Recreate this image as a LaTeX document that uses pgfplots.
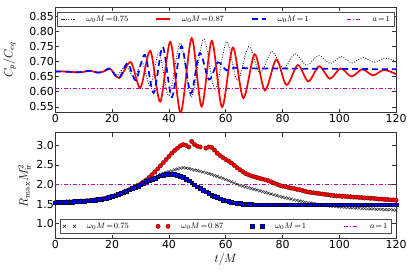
\documentclass[border=0pt]{standalone}
\usepackage[no-math]{fontspec}
\setmainfont{DejaVu Sans}
\usepackage{pgfplots}
\pgfplotsset{compat=1.18}
\definecolor{mmag}{rgb}{0.75,0,0.75}
\pgfplotsset{
  common/.style={
    scale only axis, width=341pt, height=106pt,
    xmin=0, xmax=120, xtick={0,20,...,120},
    tick label style={font=\fontsize{11}{12}\selectfont, inner sep=1.5pt},
    /pgf/number format/assume math mode=true,
    axis line style={line width=0.8pt, black!80},
    major tick length=4pt,
    every tick/.style={black!80, line width=0.6pt},
    label style={font=\fontsize{12}{14}\selectfont},
    legend columns=4,
    legend cell align=left,
    legend style={draw=black!70, line width=0.8pt, fill=white,
      inner xsep=3pt, inner ysep=2pt,
      font=\fontsize{8}{9}\selectfont,
      nodes={inner xsep=1pt, inner ysep=1.5pt},
      /tikz/every odd column/.style={column sep=10pt},
      /tikz/every even column/.style={column sep=4pt}},
  },
  linelegend/.style={legend image code/.code={\draw[mark repeat=2,mark phase=2] plot coordinates {(0pt,0pt)(7pt,0pt)(14pt,0pt)};}},
  marklegend/.style={legend image code/.code={\draw plot coordinates {(2pt,0pt)(12pt,0pt)};}},
}
\begin{document}
\begin{tikzpicture}[x=1pt,y=1pt]
\path (0,0) rectangle (415,277);
% ---------- top panel ----------
\begin{axis}[common, at={(55pt,164pt)}, anchor=south west,
  ymin=0.53, ymax=0.88, ytick={0.55,0.60,...,0.86},
  yticklabel style={/pgf/number format/.cd, fixed, fixed zerofill, precision=2},
  ylabel={$C_p/C_{eq}$},
  ylabel style={at={(axis description cs:-0.135,0.5)}, anchor=center},
  legend style={at={(0.5,0.953)}, anchor=north}]
\addplot[draw=black!85, line width=0.9pt, dash pattern=on 0.9pt off 1.6pt, smooth, linelegend] coordinates {
(0,0.667)(4,0.666)(8,0.664)(12,0.668)(15,0.664)(17,0.667)(19.2,0.673)(21.8,0.655)(24.8,0.684)(27.8,0.647)(30.6,0.697)(33.4,0.62)(36.5,0.728)(40,0.586)(44,0.761)(47.9,0.582)(52.2,0.774)(56.2,0.607)(60.3,0.765)(64.1,0.637)(68.1,0.749)(72.1,0.662)(76.2,0.733)(80.3,0.677)(84.4,0.725)(88.6,0.687)(92.7,0.72)(96.8,0.693)(100.6,0.716)(104.5,0.695)(108.3,0.713)(112.2,0.697)(116,0.711)(120,0.700)};
\addlegendentry{\makebox[64pt][l]{$\omega_0 M\!=\!0.75$}}
\addplot[draw=red, line width=1.7pt, smooth, linelegend] coordinates {
(0,0.667)(3,0.667)(6,0.665)(9,0.664)(12,0.669)(15,0.663)(17,0.667)(19.3,0.676)(22.5,0.645)(26.5,0.698)(29.9,0.613)(33.4,0.735)(36.9,0.567)(40.5,0.765)(44.1,0.530)(48,0.777)(51.5,0.551)(55.1,0.768)(58.7,0.549)(62.5,0.746)(66.2,0.579)(70.2,0.724)(73.8,0.604)(77.8,0.706)(81.4,0.622)(85.4,0.688)(89.1,0.634)(92.9,0.684)(96.7,0.643)(100.5,0.677)(104.3,0.650)(108.1,0.674)(111.9,0.654)(115.7,0.672)(120,0.658)};
\addlegendentry{\makebox[64pt][l]{$\omega_0 M\!=\!0.87$}}
\addplot[draw=blue, line width=1.7pt, dash pattern=on 6pt off 4pt, smooth, linelegend] coordinates {
(0,0.667)(4,0.666)(8,0.664)(12,0.669)(15,0.663)(17,0.667)(19.2,0.676)(22.3,0.645)(25.4,0.694)(28.3,0.638)(31.5,0.722)(34.6,0.596)(37.8,0.748)(41,0.582)(44.4,0.75)(47.7,0.594)(50.8,0.728)(54.1,0.64)(57.2,0.697)(60.2,0.671)(63,0.679)(70,0.677)(90,0.676)(120,0.674)};
\addlegendentry{\makebox[64pt][l]{$\omega_0 M\!=\!1$}}
\addplot[draw=mmag, line width=1.3pt, dash pattern=on 4pt off 2pt on 1pt off 2pt, linelegend] coordinates {(0,0.61)(120,0.61)};
\addlegendentry{$a\!=\!1$}
\end{axis}
% ---------- bottom panel ----------
\begin{axis}[common, at={(55pt,38pt)}, anchor=south west,
  ymin=0.62, ymax=3.32, ytick={1.0,1.5,...,3.01},
  yticklabel style={/pgf/number format/.cd, fixed, fixed zerofill, precision=1},
  ylabel={$R_{\mathrm{max}} M_{\mathrm{ir}}^2$},
  ylabel style={at={(axis description cs:-0.091,0.5)}, anchor=center},
  xlabel={$t/M$},
  xlabel style={at={(axis description cs:0.5,-0.198)}, anchor=center},
  legend style={at={(0.5,0.047)}, anchor=south}]
\addplot[only marks, mark=x, mark size=2pt, mark options={black!80, line width=0.6pt}, marklegend] table[row sep=\\]{
t v\\ 0 1.54\\ 1 1.55\\ 2 1.55\\ 3 1.55\\ 4 1.56\\ 5 1.56\\ 6 1.56\\ 7 1.57\\ 8 1.57\\ 9 1.58\\ 10 1.58\\ 11 1.59\\ 12 1.59\\ 13 1.60\\ 14 1.61\\ 15 1.62\\ 16 1.63\\ 17 1.64\\ 18 1.66\\ 19 1.68\\ 20 1.70\\ 21 1.72\\ 22 1.75\\ 23 1.78\\ 24 1.81\\ 25 1.84\\ 26 1.87\\ 27 1.90\\ 28 1.94\\ 29 1.97\\ 30 2.00\\ 31 2.04\\ 32 2.08\\ 33 2.12\\ 34 2.16\\ 35 2.19\\ 36 2.22\\ 37 2.26\\ 38 2.29\\ 39 2.31\\ 40 2.33\\ 41 2.35\\ 42 2.38\\ 43 2.40\\ 44 2.42\\ 45 2.43\\ 46 2.42\\ 47 2.41\\ 48 2.39\\ 49 2.37\\ 50 2.36\\ 51 2.34\\ 52 2.32\\ 53 2.30\\ 54 2.28\\ 55 2.26\\ 56 2.23\\ 57 2.21\\ 58 2.18\\ 59 2.16\\ 60 2.13\\ 61 2.10\\ 62 2.07\\ 63 2.04\\ 64 2.01\\ 65 1.98\\ 66 1.96\\ 67 1.94\\ 68 1.92\\ 69 1.90\\ 70 1.88\\ 71 1.86\\ 72 1.84\\ 73 1.82\\ 74 1.80\\ 75 1.78\\ 76 1.76\\ 77 1.74\\ 78 1.72\\ 79 1.70\\ 80 1.68\\ 81 1.66\\ 82 1.65\\ 83 1.63\\ 84 1.61\\ 85 1.60\\ 86 1.58\\ 87 1.57\\ 88 1.55\\ 89 1.54\\ 90 1.53\\ 91 1.52\\ 92 1.50\\ 93 1.49\\ 94 1.48\\ 95 1.47\\ 96 1.46\\ 97 1.45\\ 98 1.45\\ 99 1.44\\ 100 1.43\\ 101 1.43\\ 102 1.42\\ 103 1.42\\ 104 1.41\\ 105 1.41\\ 106 1.40\\ 107 1.40\\ 108 1.39\\ 109 1.39\\ 110 1.38\\ 111 1.38\\ 112 1.38\\ 113 1.37\\ 114 1.37\\ 115 1.37\\ 116 1.36\\ 117 1.36\\ 118 1.36\\ 119 1.35\\ 120 1.35\\ };
\addlegendentry{\makebox[64pt][l]{$\omega_0 M\!=\!0.75$}}
\addplot[only marks, mark=*, mark size=2.2pt, mark options={fill=red, draw=black!70!red, line width=0.3pt}, marklegend] table[row sep=\\]{
t v\\ 0 1.54\\ 1 1.55\\ 2 1.55\\ 3 1.55\\ 4 1.56\\ 5 1.56\\ 6 1.56\\ 7 1.57\\ 8 1.57\\ 9 1.58\\ 10 1.58\\ 11 1.59\\ 12 1.59\\ 13 1.60\\ 14 1.61\\ 15 1.62\\ 16 1.63\\ 17 1.64\\ 18 1.66\\ 19 1.68\\ 20 1.70\\ 21 1.72\\ 22 1.75\\ 23 1.78\\ 24 1.81\\ 25 1.84\\ 26 1.87\\ 27 1.90\\ 28 1.95\\ 29 1.98\\ 30 2.02\\ 31 2.07\\ 32 2.12\\ 33 2.18\\ 34 2.25\\ 35 2.32\\ 36 2.40\\ 37 2.48\\ 38 2.56\\ 39 2.64\\ 40 2.72\\ 41 2.80\\ 42 2.87\\ 43 2.93\\ 44 2.99\\ 45 3.02\\ 46 3.00\\ 47 2.96\\ 48 3.10\\ 49 3.02\\ 50 2.98\\ 51 2.96\\ 53 2.93\\ 54 2.96\\ 55 2.95\\ 56 2.88\\ 57 2.80\\ 58 2.74\\ 59 2.69\\ 60 2.64\\ 61 2.60\\ 62 2.55\\ 63 2.49\\ 64 2.43\\ 65 2.38\\ 66 2.33\\ 67 2.28\\ 68 2.25\\ 69 2.22\\ 70 2.20\\ 71 2.18\\ 72 2.16\\ 73 2.14\\ 74 2.12\\ 75 2.10\\ 76 2.07\\ 77 2.04\\ 78 2.01\\ 79 1.98\\ 80 1.96\\ 81 1.95\\ 82 1.93\\ 83 1.91\\ 84 1.90\\ 85 1.88\\ 86 1.87\\ 87 1.85\\ 88 1.83\\ 89 1.81\\ 90 1.80\\ 91 1.79\\ 92 1.78\\ 93 1.77\\ 94 1.76\\ 95 1.75\\ 96 1.74\\ 97 1.73\\ 98 1.72\\ 99 1.71\\ 100 1.71\\ 101 1.70\\ 102 1.70\\ 103 1.69\\ 104 1.69\\ 105 1.68\\ 106 1.68\\ 107 1.67\\ 108 1.67\\ 109 1.66\\ 110 1.66\\ 111 1.65\\ 112 1.65\\ 113 1.64\\ 114 1.63\\ 115 1.63\\ 116 1.62\\ 117 1.62\\ 118 1.61\\ 119 1.61\\ 120 1.60\\ };
\addlegendentry{\makebox[64pt][l]{$\omega_0 M\!=\!0.87$}}
\addplot[only marks, mark=square*, mark size=1.9pt, mark options={fill=blue, draw=black!70!blue, line width=0.3pt}, marklegend] table[row sep=\\]{
t v\\ 0 1.54\\ 1 1.55\\ 2 1.55\\ 3 1.55\\ 4 1.56\\ 5 1.56\\ 6 1.56\\ 7 1.57\\ 8 1.57\\ 9 1.58\\ 10 1.58\\ 11 1.59\\ 12 1.59\\ 13 1.60\\ 14 1.61\\ 15 1.62\\ 16 1.63\\ 17 1.64\\ 18 1.66\\ 19 1.68\\ 20 1.70\\ 21 1.72\\ 22 1.75\\ 23 1.78\\ 24 1.81\\ 25 1.84\\ 26 1.87\\ 27 1.90\\ 28 1.94\\ 29 1.97\\ 30 2.00\\ 31 2.04\\ 32 2.08\\ 33 2.11\\ 34 2.14\\ 35 2.17\\ 36 2.20\\ 37 2.23\\ 38 2.25\\ 39 2.26\\ 40 2.27\\ 41 2.27\\ 42 2.26\\ 43 2.24\\ 44 2.21\\ 45 2.18\\ 46 2.14\\ 47 2.10\\ 48 2.05\\ 49 2.00\\ 50 1.95\\ 51 1.91\\ 52 1.86\\ 53 1.82\\ 54 1.78\\ 55 1.74\\ 56 1.70\\ 57 1.67\\ 58 1.64\\ 59 1.61\\ 60 1.59\\ 61 1.57\\ 62 1.55\\ 63 1.54\\ 64 1.53\\ 65 1.52\\ 66 1.51\\ 67 1.50\\ 68 1.50\\ 69 1.50\\ 70 1.49\\ 71 1.49\\ 72 1.49\\ 73 1.49\\ 74 1.49\\ 75 1.49\\ 76 1.49\\ 77 1.49\\ 78 1.49\\ 79 1.49\\ 80 1.49\\ 81 1.49\\ 82 1.49\\ 83 1.49\\ 84 1.49\\ 85 1.49\\ 86 1.49\\ 87 1.49\\ 88 1.49\\ 89 1.49\\ 90 1.49\\ 91 1.49\\ 92 1.49\\ 93 1.49\\ 94 1.49\\ 95 1.49\\ 96 1.49\\ 97 1.49\\ 98 1.49\\ 99 1.49\\ 100 1.49\\ 101 1.49\\ 102 1.49\\ 103 1.49\\ 104 1.49\\ 105 1.49\\ 106 1.49\\ 107 1.49\\ 108 1.49\\ 109 1.49\\ 110 1.49\\ 111 1.49\\ 112 1.49\\ 113 1.49\\ 114 1.49\\ 115 1.49\\ 116 1.49\\ 117 1.49\\ 118 1.49\\ 119 1.49\\ 120 1.49\\ };
\addlegendentry{\makebox[64pt][l]{$\omega_0 M\!=\!1$}}
\addplot[draw=mmag, line width=1.3pt, dash pattern=on 4pt off 2pt on 1pt off 2pt, linelegend] coordinates {(0,2.0)(120,2.0)};
\addlegendentry{$a\!=\!1$}
\end{axis}
\end{tikzpicture}
\end{document}
